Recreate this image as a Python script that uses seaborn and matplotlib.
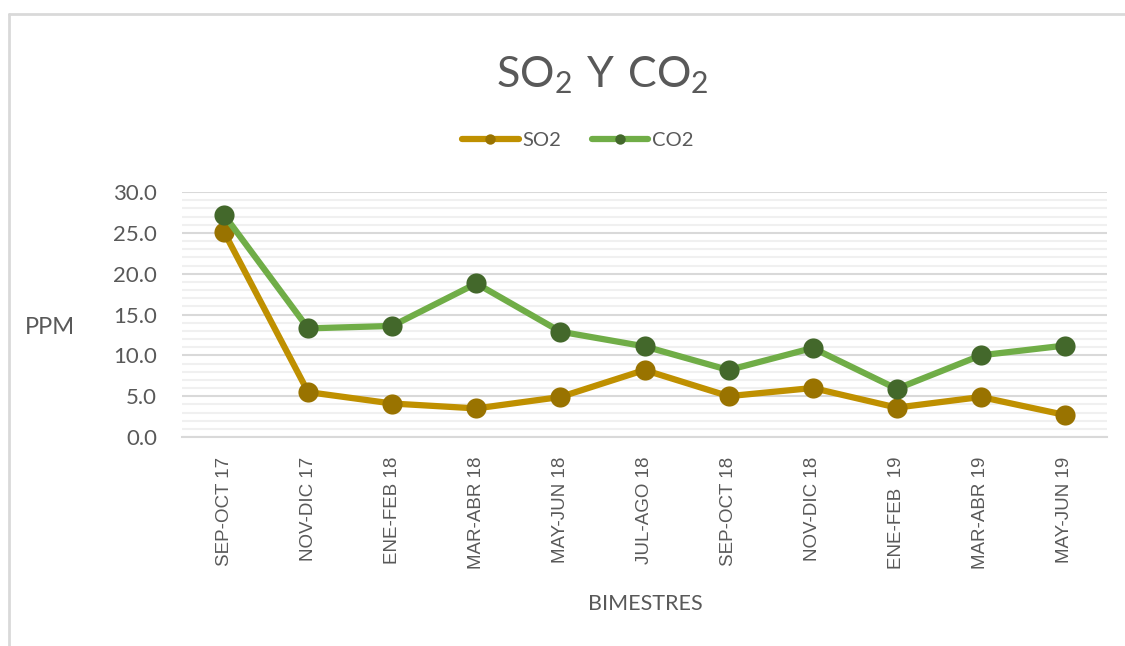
import numpy as np
import pandas as pd
import matplotlib
matplotlib.use("Agg")
import matplotlib.pyplot as plt
import seaborn as sns
from matplotlib.ticker import MultipleLocator
from matplotlib.lines import Line2D


# ======================================================
# Data
# ======================================================
bimestres = [
    "SEP-OCT 17", "NOV-DIC 17", "ENE-FEB 18", "MAR-ABR 18", "MAY-JUN 18",
    "JUL-AGO 18", "SEP-OCT 18", "NOV-DIC 18", "ENE-FEB  19", "MAR-ABR 19",
    "MAY-JUN 19",
]
so2 = [25.1, 5.5, 4.1, 3.5, 4.9, 8.2, 5.0, 6.0, 3.6, 4.9, 2.7]
co2 = [27.2, 13.3, 13.6, 18.8, 12.9, 11.1, 8.2, 10.9, 5.9, 10.0, 11.2]

df = pd.DataFrame({"bimestre": bimestres, "SO2": so2, "CO2": co2})


# ======================================================
# Style
# ======================================================
sns.set_theme(style="white")
plt.rcParams["font.family"] = ["Lato", "DejaVu Sans"]
plt.rcParams["mathtext.fontset"] = "custom"
plt.rcParams["mathtext.rm"] = "Lato"

text_col = "#595959"
grid_major = "#D9D9D9"
grid_minor = "#F0F0F0"

W, H = 1125, 646
fig = plt.figure(figsize=(W / 100, H / 100), dpi=100)
ax = fig.add_axes([182 / W, 1 - 437 / H, (1107 - 182) / W, (437 - 192) / H])


# ======================================================
# Lines
# ======================================================
sns.lineplot(data=df, x="bimestre", y="SO2", ax=ax, sort=False,
             color="#BF9000", linewidth=4.5, marker="o", markersize=14.5,
             markerfacecolor="#997300", markeredgecolor="#997300",
             markeredgewidth=0, label="SO2", zorder=3)
sns.lineplot(data=df, x="bimestre", y="CO2", ax=ax, sort=False,
             color="#70AD47", linewidth=4.5, marker="o", markersize=14.5,
             markerfacecolor="#43682B", markeredgecolor="#43682B",
             markeredgewidth=0, label="CO2", zorder=4)


# ======================================================
# Axes
# ======================================================
ax.set_xlim(-0.5, len(bimestres) - 0.5)
ax.set_ylim(0, 30)
ax.yaxis.set_major_locator(MultipleLocator(5))
ax.yaxis.set_minor_locator(MultipleLocator(1))
ax.set_yticklabels([f"{v:.1f}" for v in ax.get_yticks()])

ax.grid(False)
ax.grid(axis="y", which="minor", color=grid_minor, linewidth=1.5, zorder=0)
ax.grid(axis="y", which="major", color=grid_major, linewidth=1.5, zorder=1)
ax.set_axisbelow(True)

for side in ["top", "right", "left"]:
    ax.spines[side].set_visible(False)
ax.spines["bottom"].set_color(grid_major)
ax.spines["bottom"].set_linewidth(1.5)

ax.set_xticks(np.arange(-0.5, len(bimestres), 1), minor=True)
ax.tick_params(axis="x", which="major", length=0, pad=14, rotation=90,
               labelsize=13.5, labelcolor=text_col)
ax.tick_params(axis="x", which="minor", length=7, width=1.5, color=grid_major)
ax.tick_params(axis="y", which="both", length=0, pad=18,
               labelsize=16, labelcolor=text_col)
for lbl in ax.get_xticklabels():
    lbl.set_family(["Liberation Sans", "DejaVu Sans"])
    lbl.set_va("top")

ax.set_xlabel("")
ax.set_ylabel("")


# ======================================================
# Texts, legend, frame
# ======================================================
fig.text(602 / W, 1 - 87 / H, r"$\mathrm{SO_2\ Y\ CO_2}$", ha="center",
         va="baseline", fontsize=31, color=text_col)
fig.text(50 / W, 1 - 327 / H, "PPM", ha="center", va="center",
         fontsize=17, color=text_col)
fig.text(645 / W, 1 - 604 / H, "BIMESTRES", ha="center", va="center",
         fontsize=15.5, color=text_col)

leg = ax.legend(loc="center", bbox_to_anchor=(578 / W, 1 - 140 / H),
                bbox_transform=fig.transFigure, ncol=2, frameon=False,
                fontsize=14.5, handlelength=2.8, handletextpad=0.2,
                columnspacing=1.5, labelcolor=text_col)
for h in leg.get_lines():
    h.set_markersize(7.5)
    h.set_linewidth(4.5)
    h.set_solid_capstyle("round")

# chart-area border: only the left and top edges fall inside the picture
x0, y0 = 8.5 / W, 1 - 13.5 / H
fig.add_artist(Line2D([x0, x0], [0, y0], transform=fig.transFigure,
                      color=grid_major, linewidth=2))
fig.add_artist(Line2D([x0, 1], [y0, y0], transform=fig.transFigure,
                      color=grid_major, linewidth=2))

fig.savefig("out.png", dpi=100)
